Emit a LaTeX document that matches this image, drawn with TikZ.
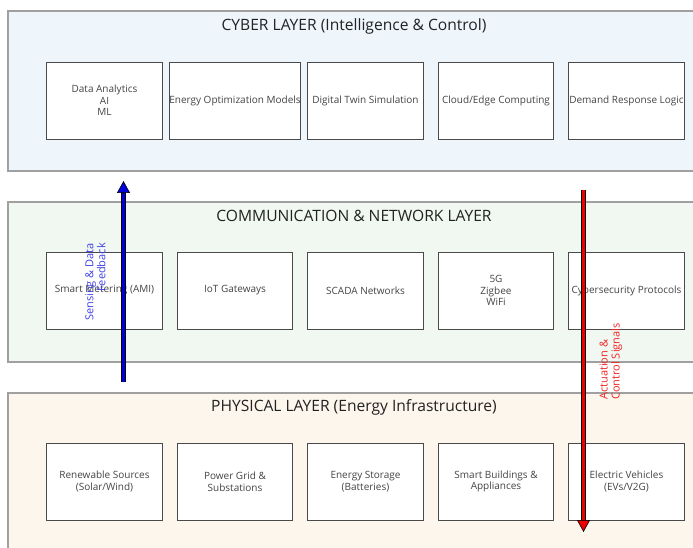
\documentclass[tikz,border=0pt]{standalone}
\usepackage{fontspec}
\setmainfont{Open Sans}
\usetikzlibrary{arrows.meta,calc}
\definecolor{cyberbg}{HTML}{EEF6FC}
\definecolor{commbg}{HTML}{F1F7F1}
\definecolor{physbg}{HTML}{FDF6EC}
\definecolor{layerline}{HTML}{A0A0A0}
\definecolor{boxline}{HTML}{4A4A4A}
\definecolor{boxtext}{HTML}{444444}
\definecolor{titletext}{HTML}{222222}
\definecolor{upblue}{HTML}{0000DD}
\definecolor{downred}{HTML}{EE0000}
\tikzset{
  layer/.style={draw=layerline, line width=1.6pt, minimum width=692pt, minimum height=160pt, inner sep=0pt},
  layertitle/.style={font=\fontsize{15.6}{18}\selectfont, text=titletext},
  compbox/.style={draw=boxline, fill=white, line width=0.9pt, minimum width=115.5pt, minimum height=77pt, inner sep=0pt, align=center, font=\fontsize{10}{11.7}\selectfont, text=boxtext},
  arrowshaft/.style={draw=black, line width=0.6pt, double distance=3.8pt, shorten >=11pt},
  arrowhead/.style={draw=black, line width=0.6pt, -{Triangle[width=13pt,length=12pt,fill=#1]}},
  flowlabel/.style={rotate=90, inner sep=0pt, font=\fontsize{11}{12}\selectfont}
}
\begin{document}
\begin{tikzpicture}[x=1pt,y=-1pt]
\clip (0,0) rectangle (693,548);
\fill[white] (0,0) rectangle (693,548);
% layers
\node[layer, fill=cyberbg] (cyber) at (354,91) {};
\node[layer, fill=commbg] (comm) at (354,282) {};
\node[layer, fill=physbg] (phys) at (354,473) {};
\node[layertitle] (cybertitle) at (354,26) {CYBER LAYER (Intelligence \& Control)};
\node[layertitle] (commtitle) at (354,216) {COMMUNICATION \& NETWORK LAYER};
\node[layertitle] (phystitle) at (354,407) {PHYSICAL LAYER (Energy Infrastructure)};
% cyber boxes
\node[compbox] (c1) at (104.5,100.5) {Data Analytics\\AI\\ML};
\node[compbox] (c2) at (235,100.5) {Energy Optimization Models};
\node[compbox] (c3) at (365.5,100.5) {Digital Twin Simulation};
\node[compbox] (c4) at (496,100.5) {Cloud/Edge Computing};
\node[compbox] (c5) at (626.5,100.5) {Demand Response Logic};
% comm boxes
\node[compbox] (n1) at (104.5,290.5) {Smart Metering (AMI)};
\node[compbox] (n2) at (235,290.5) {IoT Gateways};
\node[compbox] (n3) at (365.5,290.5) {SCADA Networks};
\node[compbox] (n4) at (496,290.5) {5G\\Zigbee\\WiFi};
\node[compbox] (n5) at (626.5,290.5) {Cybersecurity Protocols};
% physical boxes
\node[compbox] (p1) at (104.5,481.5) {Renewable Sources\\(Solar/Wind)};
\node[compbox] (p2) at (235,481.5) {Power Grid \&\\Substations};
\node[compbox] (p3) at (365.5,481.5) {Energy Storage\\(Batteries)};
\node[compbox] (p4) at (496,481.5) {Smart Buildings \&\\Appliances};
\node[compbox] (p5) at (626.5,481.5) {Electric Vehicles\\(EVs/V2G)};
% labels
\node[flowlabel, text=upblue!75, anchor=east, align=right] (uplabel) at (95.5,243) {Sensing \& Data\\Feedback};
\node[flowlabel, text=downred!85, anchor=west, align=left] (downlabel) at (611,400) {Actuation \&\\Control Signals};
% arrows
\coordinate (upstart) at (123.5,382);
\coordinate (upend) at (123.5,181);
\coordinate (downstart) at (583.5,190);
\coordinate (downend) at (583.5,532);
\draw[arrowshaft, double=upblue] (upstart) -- (upend);
\draw[arrowhead=upblue] ($(upend)!12pt!(upstart)$) -- (upend);
\draw[arrowshaft, double=downred] (downstart) -- (downend);
\draw[arrowhead=downred] ($(downend)!12pt!(downstart)$) -- (downend);
\end{tikzpicture}
\end{document}
